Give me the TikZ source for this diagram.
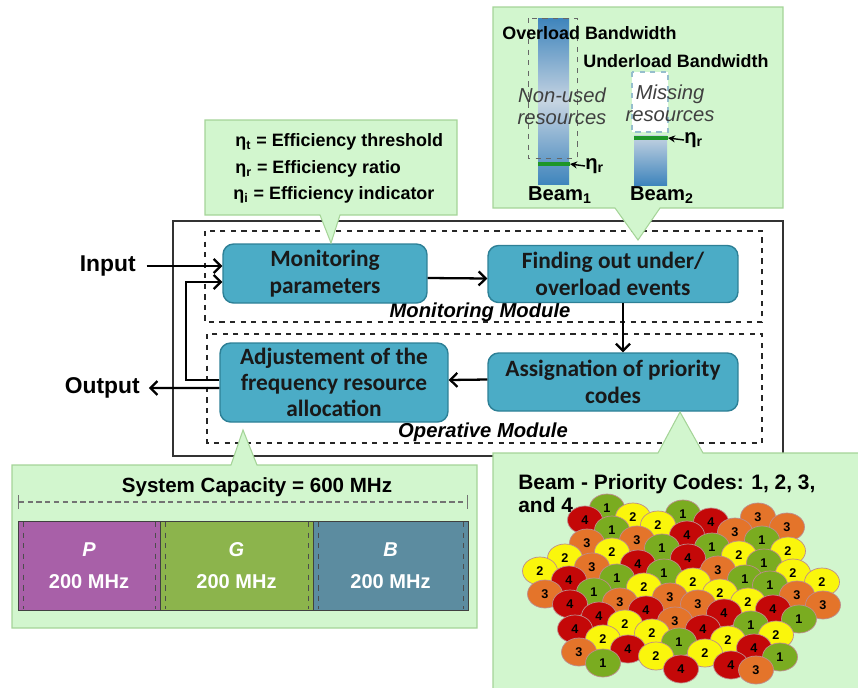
\documentclass[tikz,border=0pt]{standalone}
\usepackage{fontspec}
\setmainfont{Liberation Sans}
\newfontfamily\boxfont{Carlito}
\usetikzlibrary{shapes.geometric,arrows.meta}

\definecolor{stagefill}{RGB}{75,172,198}
\definecolor{stageedge}{RGB}{45,128,150}
\definecolor{calloutfill}{RGB}{210,246,206}
\definecolor{calloutedge}{RGB}{165,212,152}
\definecolor{beamdark}{RGB}{62,132,188}
\definecolor{beamlight}{RGB}{198,212,226}
\definecolor{levelgreen}{RGB}{30,150,40}
\definecolor{bandP}{RGB}{168,96,168}
\definecolor{bandG}{RGB}{140,180,76}
\definecolor{bandB}{RGB}{92,140,160}
\definecolor{code1}{RGB}{122,172,32}
\definecolor{code2}{RGB}{250,246,12}
\definecolor{code3}{RGB}{228,116,42}
\definecolor{code4}{RGB}{196,8,8}
\definecolor{celledge}{RGB}{190,140,140}

\begin{document}
\begin{tikzpicture}[x=0.02cm,y=-0.02cm,
	stage/.style={draw=stageedge,fill=stagefill,line width=0.8pt,rounded corners=6pt,
		align=center,inner sep=0pt,text=black!90,
		font=\boxfont\bfseries\fontsize{13.3}{15}\selectfont},
	flow/.style={line width=1.3pt,-{Straight Barb[length=4pt,width=8pt]}},
	module/.style={dashed,line width=0.7pt,black!85},
	modlabel/.style={font=\bfseries\itshape\fontsize{11.5}{13}\selectfont},
	io/.style={font=\bfseries\fontsize{13}{15}\selectfont,inner sep=0pt},
	callout/.style={fill=calloutfill,draw=calloutedge,line width=0.6pt},
	note/.style={font=\bfseries\fontsize{10.2}{12}\selectfont,inner sep=0pt},
	soft/.style={font=\itshape\fontsize{11.5}{12.5}\selectfont,text=black!75,align=center,inner sep=0pt},
	band/.style={draw=black!75,line width=0.5pt,minimum height=1.78cm,inner sep=0pt,
		text=white,align=center,font=\bfseries\fontsize{11.4}{13}\selectfont},
	cell/.style={ellipse,draw=celledge,line width=0.4pt,minimum width=0.7cm,
		minimum height=0.56cm,inner sep=0pt,font=\bfseries\fontsize{7.2}{8}\selectfont}]
	\useasboundingbox (0,0) rectangle (858,687);
	\clip (0,0) rectangle (858,687);

	% frame and the two modules
	\draw[black!80,line width=0.8pt] (173,221) rectangle (783,456);
	\draw[module] (205,231) rectangle (762,322);
	\draw[module] (207,334) rectangle (762,443);
	\node[modlabel] (monlab) at (480,312) {Monitoring Module};
	\node[modlabel] (oplab) at (483,432) {Operative Module};

	% processing stages
	\node[stage,minimum width=4.08cm,minimum height=1.18cm] (mon) at (325,273.5) {Monitoring\\parameters};
	\node[stage,minimum width=5cm,minimum height=1.14cm] (find) at (613,274) {Finding out under/\\overload events};
	\node[stage,minimum width=5cm,minimum height=1.16cm] (assign) at (613,382) {Assignation of priority\\codes};
	\node[stage,minimum width=4.56cm,minimum height=1.58cm] (adjust) at (334,382.5) {Adjustement of the\\frequency resource\\allocation};

	\node[io,anchor=east] (input) at (136,266) {Input};
	\node[io,anchor=east] (output) at (140,388) {Output};
	\coordinate (loop) at (186,330);

	\draw[flow] ([xshift=6pt]input.east) -- (input.east -| mon.west);
	\draw[flow] ([yshift=-0.09cm]mon.east) -- ([yshift=-0.09cm]find.west);
	\draw[flow] ([xshift=0.2cm]find.south) -- ([xshift=0.2cm]assign.north);
	\draw[flow] ([yshift=0.05cm]assign.west) -- ([yshift=0.05cm]adjust.east);
	\draw[flow] ([yshift=0.05cm]adjust.west) -| (loop) |- ([yshift=-0.17cm]mon.west);
	\draw[flow] ([yshift=-0.11cm]adjust.west) -- ([xshift=5pt]output.east);

	% efficiency notes
	\draw[callout] (205,120) -- (457,120) -- (457,215) -- (340,215) -- (331,243)
		-- (320,215) -- (205,215) -- cycle;
	\node[note,anchor=west] (etat) at (235,142) {η\textsubscript{t} = Efficiency threshold};
	\node[note,anchor=west] (etar) at (235,169) {η\textsubscript{r} = Efficiency ratio};
	\node[note,anchor=west] (etai) at (233,195) {η\textsubscript{i} = Efficiency indicator};

	% under/overload bandwidth sketch
	\draw[callout] (493,7) -- (783,7) -- (783,208) -- (660,208) -- (638,240)
		-- (615,208) -- (493,208) -- cycle;
	\node[inner sep=0pt,minimum width=0.62cm,minimum height=3.34cm,
		top color=beamdark,bottom color=beamdark,middle color=beamlight] (beam1) at (553.5,101.5) {};
	\node[inner sep=0pt,minimum width=0.66cm,minimum height=1cm,
		top color=beamlight,bottom color=beamdark] (beam2) at (650.5,160) {};
	\draw[dashed,black!60,line width=0.5pt] (528,18) rectangle (577,158);
	\draw[dashed,fill=white,draw={rgb,255:red,150;green,190;blue,205},line width=0.8pt] (632,72) rectangle (668,132);
	\coordinate (lvl1) at (570,164);
	\coordinate (lvl2) at (668,138);
	\draw[levelgreen,line width=2pt] (538,164) -- (lvl1);
	\draw[levelgreen,line width=2pt] (634,138) -- (lvl2);
	\node[note,anchor=west] (over) at (502,33) {Overload Bandwidth};
	\node[note,anchor=west] (under) at (583,61) {Underload Bandwidth};
	\node[soft] (unused) at (562,106) {Non-used\\resources};
	\node[soft] (missing) at (670,103) {Missing\\resources};
	\node[io,font=\bfseries\fontsize{11.5}{13}\selectfont,anchor=west] (eta1) at (585,166) {η\textsubscript{r}};
	\node[io,font=\bfseries\fontsize{11.5}{13}\selectfont,anchor=west] (eta2) at (684,140) {η\textsubscript{r}};
	\draw[line width=0.8pt,-{Stealth[length=4pt,width=4pt]}] (eta1.west) -- (lvl1);
	\draw[line width=0.8pt,-{Stealth[length=4pt,width=4pt]}] (eta2.west) -- (lvl2);
	\node[io,font=\bfseries\fontsize{11.5}{13}\selectfont] (b1lab) at (560,195) {Beam\textsubscript{1}};
	\node[io,font=\bfseries\fontsize{11.5}{13}\selectfont] (b2lab) at (662,195) {Beam\textsubscript{2}};

	% system capacity split
	\draw[callout] (12,465) -- (231,465) -- (243,430) -- (257,465) -- (477,465)
		-- (477,628) -- (12,628) -- cycle;
	\node[font=\bfseries\fontsize{11.7}{13}\selectfont] (cap) at (257,487) {System Capacity = 600 MHz};
	\draw[black!55,line width=0.6pt,densely dashed,{Bar[width=8pt]}-{Bar[width=8pt]}] (18,502) -- (468,502);
	\node[band,fill=bandP,minimum width=2.84cm] (bandp) at (89,565.5) {\textit{P}\\[5pt]200 MHz};
	\node[band,fill=bandG,minimum width=3.06cm] (bandg) at (236.5,565.5) {\textit{G}\\[5pt]200 MHz};
	\node[band,fill=bandB,minimum width=3.1cm] (bandb) at (390.5,565.5) {\textit{B}\\[5pt]200 MHz};
	\foreach \bx in {23,155,165,308,318,463}
		\draw[black!70,dashed,line width=0.5pt] (\bx,522) -- (\bx,609);

	% beam map with priority codes
	\draw[callout] (493,453) -- (658,453) -- (680,412) -- (703,453) -- (870,453)
		-- (870,700) -- (493,700) -- cycle;
	\foreach \cx/\cy/\code [count=\i] in {
		607/508/1, 683/514/1, 633/517/2, 758/517/3, 585/520/4, 711/522/4, 658/525/2,
		787/527/3, 612/530/1, 735/532/3, 687/535/4, 637/540/3, 762/540/1, 587/543/3,
		712/547/1, 662/548/1, 788/551/2, 612/552/2, 739/555/2, 565/558/2, 688/558/4,
		764/563/1, 638/564/4, 592/567/3, 718/570/3, 540/571/2, 664/573/1, 793/573/2,
		617/578/1, 745/579/1, 569/580/4, 693/582/2, 822/582/2, 770/585/1, 644/587/2,
		594/592/1, 720/593/2, 545/594/3, 797/595/3, 670/597/3, 620/602/3, 748/602/2,
		698/604/3, 570/604/4, 823/605/3, 773/609/4, 646/610/4, 724/613/4, 599/616/4,
		799/619/1, 675/621/3, 625/624/2, 751/625/1, 575/629/4, 703/629/4, 652/633/2,
		776/635/2, 603/639/2, 728/640/2, 679/642/1, 754/648/4, 628/649/4, 579/652/3,
		705/653/2, 656/656/2, 780/657/1, 603/663/1, 731/665/4, 681/669/4, 756/670/3}
		\node[cell,fill=code\code] (cell\i) at (\cx,\cy) {\code};
	\node[font=\bfseries\fontsize{11.9}{13}\selectfont,align=left,anchor=west,inner sep=0pt] (codes)
		at (518,493.5) {Beam - Priority Codes: 1, 2, 3,\\and 4};
\end{tikzpicture}
\end{document}
